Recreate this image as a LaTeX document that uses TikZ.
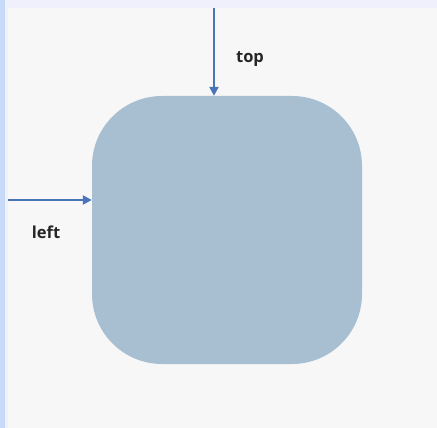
\documentclass[tikz,border=0pt]{standalone}
\usepackage{fontspec}
\setmainfont{Open Sans}
\usetikzlibrary{arrows.meta}
\definecolor{pagebg}{HTML}{F7F7F7}
\definecolor{edgeblue}{HTML}{C6D9F6}
\definecolor{edgelav}{HTML}{F0F0FD}
\definecolor{boxfill}{HTML}{A8BFD2}
\definecolor{arrowblue}{HTML}{4A74B8}
\tikzset{
  pointer/.style={draw=arrowblue, line width=2.4pt, -{Triangle[length=9pt,width=9pt]}},
  tag/.style={font=\fontsize{16.5}{19}\selectfont\bfseries, text=black!85},
}
\begin{document}
\begin{tikzpicture}[x=1pt,y=-1pt]
  % canvas and its edge strips
  \useasboundingbox (0,0) rectangle (437,428);
  \fill[pagebg] (0,0) rectangle (437,428);
  \fill[edgelav] (0,0) rectangle (437,8);
  \fill[edgelav] (5,0) rectangle (8,428);
  \fill[edgeblue] (0,0) rectangle (5,428);
  % rounded box
  \node[fill=boxfill, rounded corners=70pt, minimum width=270pt, minimum height=268pt, inner sep=0pt] (box) at (227,230) {};
  % pointer start points
  \coordinate (topstart) at (214,8);
  \coordinate (leftstart) at (8,200);
  \draw[pointer] (topstart) -- (topstart |- box.north);
  \draw[pointer] (leftstart) -- (leftstart -| box.west);
  \node[tag] (toplabel) at (250,59) {top};
  \node[tag] (leftlabel) at (46,232) {left};
\end{tikzpicture}
\end{document}
